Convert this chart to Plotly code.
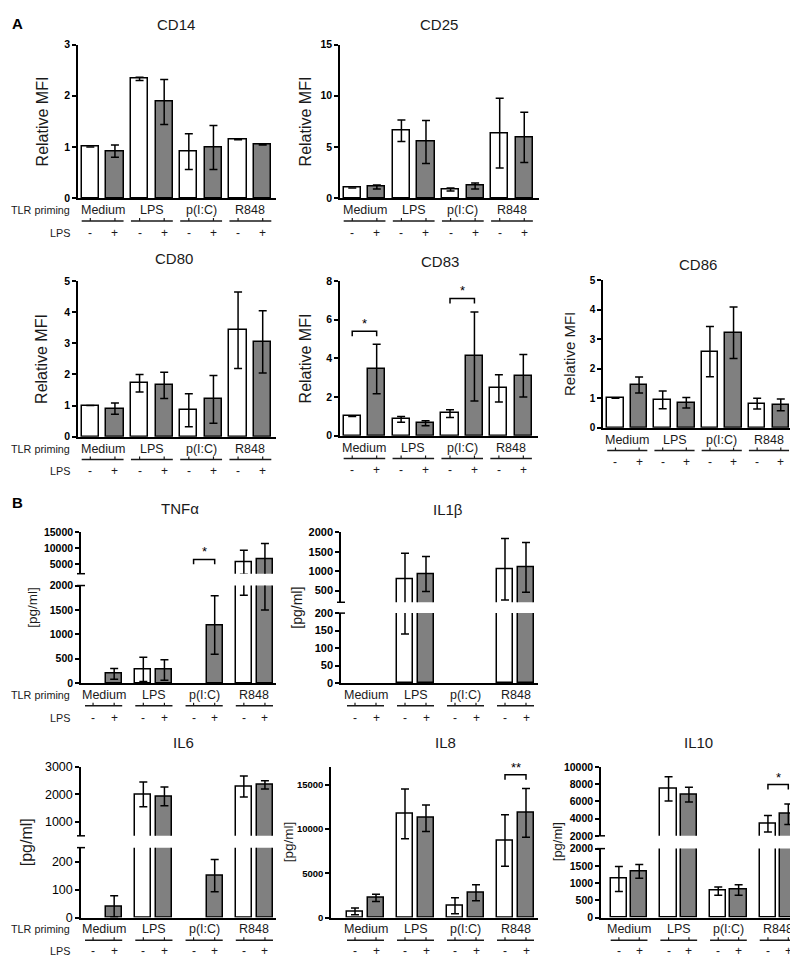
import plotly.graph_objects as go

W, H = 798, 957

groups = ["Medium", "LPS", "p(I:C)", "R848"]
lps = ["-", "+"]

# order: Medium -, Medium +, LPS -, LPS +, p(I:C) -, p(I:C) +, R848 -, R848 +
cd14 = [1.0, 0.92, 2.33, 1.88, 0.91, 0.99, 1.15, 1.05]
cd14_err = [0, 0.12, 0.03, 0.44, 0.35, 0.43, 0.01, 0.01]
cd25 = [1.0, 1.1, 6.6, 5.5, 0.85, 1.2, 6.35, 5.95]
cd25_err = [0, 0.2, 1.05, 2.1, 0.15, 0.3, 3.4, 2.45]
cd80 = [1.0, 0.9, 1.72, 1.65, 0.85, 1.2, 3.42, 3.05]
cd80_err = [0, 0.18, 0.28, 0.42, 0.53, 0.77, 1.23, 1.0]
cd83 = [1.0, 3.45, 0.85, 0.65, 1.15, 4.1, 2.45, 3.1]
cd83_err = [0, 1.28, 0.15, 0.13, 0.2, 2.3, 0.7, 1.1]
cd86 = [1.0, 1.45, 0.95, 0.85, 2.58, 3.22, 0.82, 0.78]
cd86_err = [0, 0.27, 0.3, 0.18, 0.85, 0.87, 0.18, 0.2]
tnfa = [None, 190, 280, 270, None, 1190, 5600, 6500]
tnfa_err = [0, 110, 250, 210, 0, 600, 3800, 5000]
il1b = [None, None, 800, 925, None, None, 1050, 1100]
il1b_err = [0, 0, 660, 450, 0, 0, 790, 640]
il6 = [None, 40, 2000, 1930, None, 150, 2290, 2350]
il6_err = [0, 38, 450, 340, 0, 58, 380, 150]
il8 = [700, 2220, 11700, 11200, 1330, 2800, 8700, 11800]
il8_err = [380, 400, 2800, 1500, 900, 900, 2900, 2750]
il10 = [1120, 1340, 7450, 6770, 770, 800, 3400, 4500]
il10_err = [360, 200, 1400, 850, 120, 150, 950, 1200]

# significance marks: (group, bracket level, text)
sig_cd83 = [("Medium", 5.4, "*"), ("p(I:C)", 7.1, "*")]
sig_tnfa = [("p(I:C)", 6500, "*")]
sig_il8 = [("R848", 16100, "**")]
sig_il10 = [("R848", 7950, "*")]

WHITE, GREY = "white", "#808080"
FONT = "Arial, Liberation Sans, sans-serif"

# panel geometry in pixels
panels = [
    dict(title="CD14", y=cd14, e=cd14_err, x0=70, x1=268, xr=[-0.5, 3.52], d=0.25, w=0.35,
         segs=[dict(top=30, bot=186, r=[0, 3], tv=[0, 1, 2, 3])],
         tpos=(168, 10), ytitle="Relative MFI", ytx=34, yts=16, tfs=10.5, bold=True,
         rowlab=True, sig=[]),
    dict(title="CD25", y=cd25, e=cd25_err, x0=332, x1=531, xr=[-0.5, 3.55], d=0.25, w=0.35,
         segs=[dict(top=30, bot=186, r=[0, 15], tv=[0, 5, 10, 15])],
         tpos=(431, 10), ytitle="Relative MFI", ytx=297, yts=16, tfs=10.5, bold=True,
         rowlab=False, sig=[]),
    dict(title="CD80", y=cd80, e=cd80_err, x0=70, x1=268, xr=[-0.5, 3.52], d=0.25, w=0.35,
         segs=[dict(top=270, bot=428, r=[0, 5], tv=[0, 1, 2, 3, 4, 5])],
         tpos=(166, 247), ytitle="Relative MFI", ytx=34, yts=16, tfs=10.5, bold=True,
         rowlab=True, sig=[]),
    dict(title="CD83", y=cd83, e=cd83_err, x0=332, x1=530, xr=[-0.5, 3.55], d=0.25, w=0.35,
         segs=[dict(top=270, bot=427, r=[0, 8], tv=[0, 2, 4, 6, 8])],
         tpos=(432, 250), ytitle="Relative MFI", ytx=297, yts=16, tfs=10.5, bold=True,
         rowlab=False, sig=sig_cd83),
    dict(title="CD86", y=cd86, e=cd86_err, x0=595, x1=786, xr=[-0.514, 3.53], d=0.25, w=0.35,
         segs=[dict(top=269, bot=419, r=[0, 5], tv=[0, 1, 2, 3, 4, 5])],
         tpos=(690, 253), ytitle="Relative MFI", ytx=562, yts=15, tfs=10, bold=True,
         rowlab=False, sig=[]),
    dict(title="TNFα", y=tnfa, e=tnfa_err, x0=73, x1=268, xr=[-0.45, 3.43], d=0.21, w=0.32,
         segs=[dict(top=579, bot=678, r=[0, 2000], tv=[0, 500, 1000, 1500, 2000]),
               dict(top=525, bot=567, r=[2000, 15000], tv=[5000, 10000, 15000])],
         tpos=(172, 501), ytitle="[pg/ml]", ytx=25, yts=13.5, tfs=10.5, bold=True,
         rowlab=True, sig=sig_tnfa),
    dict(title="IL1β", y=il1b, e=il1b_err, x0=333, x1=530, xr=[-0.49, 3.45], d=0.21, w=0.32,
         segs=[dict(top=607, bot=678, r=[0, 200], tv=[0, 50, 100, 150, 200]),
               dict(top=525, bot=596, r=[200, 2000], tv=[500, 1000, 1500, 2000])],
         tpos=(440, 502), ytitle="[pg/ml]", ytx=289, yts=14, tfs=11, bold=True,
         rowlab=False, sig=[]),
    dict(title="IL6", y=il6, e=il6_err, x0=73, x1=268, xr=[-0.45, 3.43], d=0.21, w=0.32,
         segs=[dict(top=845, bot=916, r=[0, 250], tv=[0, 100, 200]),
               dict(top=763, bot=833, r=[500, 3000], tv=[1000, 2000, 3000])],
         tpos=(175, 738), ytitle="[pg/ml]", ytx=18, yts=16, tfs=12.5, bold=False,
         rowlab=True, sig=[]),
    dict(title="IL8", y=il8, e=il8_err, x0=323, x1=530, xr=[-0.69, 3.45], d=0.21, w=0.32,
         segs=[dict(top=763, bot=916, r=[0, 17000], tv=[0, 5000, 10000, 15000])],
         tpos=(437, 738), ytitle="[pg/ml]", ytx=280, yts=13.5, tfs=9.5, bold=True,
         rowlab=False, sig=sig_il8),
    dict(title="IL10", y=il10, e=il10_err, x0=593, x1=790, xr=[-0.565, 3.4], d=0.205, w=0.33,
         segs=[dict(top=846, bot=916, r=[0, 2000], tv=[0, 500, 1000, 1500, 2000]),
               dict(top=763, bot=833, r=[2000, 10000], tv=[2000, 4000, 6000, 8000, 10000])],
         tpos=(690, 738), ytitle="[pg/ml]", ytx=549, yts=13, tfs=10.5, bold=True,
         rowlab=False, sig=sig_il10),
]


def px(v):
    return v / W


def py(v):
    return 1 - v / H


fig = go.Figure()
layout = {}
shapes = []
annos = []
ycount = 0
LC = "#1a1a1a"

for i, p in enumerate(panels, start=1):
    xkey = "xaxis" if i == 1 else f"xaxis{i}"
    xid = "x" if i == 1 else f"x{i}"
    d, w = p["d"], p["w"]
    xpos = [g + s * d for g in range(len(groups)) for s in (-1, 1)]
    colors = [WHITE if k % 2 == 0 else GREY for k in range(len(xpos))]

    yids = []
    for j, s in enumerate(p["segs"]):
        ycount += 1
        ykey = "yaxis" if ycount == 1 else f"yaxis{ycount}"
        yid = "y" if ycount == 1 else f"y{ycount}"
        yids.append(yid)
        layout[ykey] = dict(
            domain=[py(s["bot"]), py(s["top"])], range=s["r"], anchor=xid,
            tickvals=s["tv"], ticktext=[f"{v:g}" for v in s["tv"]],
            ticks="outside", ticklen=4, tickwidth=1.5, tickcolor="black",
            showline=True, linewidth=1.5, linecolor="black",
            showgrid=False, zeroline=False,
            tickfont=dict(family=FONT, size=p["tfs"], color="black",
                          weight="bold" if p["bold"] else "normal"),
        )
        # on an upper (broken) segment only bars that reach into it are drawn
        if j == 0:
            yv = p["y"]
        else:
            yv = [v if v is not None and v + e >= s["r"][0] else None
                  for v, e in zip(p["y"], p["e"])]
        fig.add_trace(go.Bar(
            x=xpos, y=yv, xaxis=xid, yaxis=yid, width=w,
            marker=dict(color=colors, line=dict(color="black", width=1.5)),
            error_y=dict(type="data", array=p["e"], color="black", thickness=1.5, width=4),
            showlegend=False, hoverinfo="skip",
        ))
        # break caps
        if len(p["segs"]) > 1:
            edge = s["top"] if j == 0 else s["bot"]
            shapes.append(dict(type="line", xref="paper", yref="paper",
                               x0=px(p["x0"] - 4), x1=px(p["x0"] + 4),
                               y0=py(edge), y1=py(edge),
                               line=dict(color="black", width=1.5)))

    layout[xkey] = dict(
        domain=[px(p["x0"]), px(p["x1"])], range=p["xr"], anchor=yids[0],
        showline=True, linewidth=2, linecolor="black", showticklabels=False,
        ticks="", showgrid=False, zeroline=False,
    )

    bot = p["segs"][0]["bot"]
    pm_y = bot + 35 if bot < 900 else bot + 34
    # group labels, lines with ticks, LPS +/- labels
    for g, name in enumerate(groups):
        annos.append(dict(text=name, x=g, y=py(bot + 12), xref=xid, yref="paper",
                          showarrow=False, xanchor="center", yanchor="middle",
                          font=dict(family=FONT, size=12.5, color=LC)))
        shapes.append(dict(type="line", xref=xid, yref="paper",
                           x0=g - d - w / 2, x1=g + d + w / 2,
                           y0=py(bot + 23), y1=py(bot + 23),
                           line=dict(color=LC, width=1.5)))
        for s in (-1, 1):
            shapes.append(dict(type="line", xref=xid, yref="paper",
                               x0=g + s * d, x1=g + s * d,
                               y0=py(bot + 23), y1=py(bot + 20),
                               line=dict(color=LC, width=1.2)))
    for k, xv in enumerate(xpos):
        annos.append(dict(text=lps[k % 2], x=xv, y=py(pm_y), xref=xid, yref="paper",
                          showarrow=False, xanchor="center", yanchor="middle",
                          borderpad=0,
                          font=dict(family=FONT, size=12, color=LC)))
    if p["rowlab"]:
        annos.append(dict(text="TLR priming", x=px(63), y=py(bot + 12), xref="paper",
                          yref="paper", showarrow=False, xanchor="right", yanchor="middle",
                          borderpad=0,
                          font=dict(family=FONT, size=10.8, color=LC)))
        annos.append(dict(text="LPS", x=px(63), y=py(pm_y), xref="paper",
                          yref="paper", showarrow=False, xanchor="right", yanchor="middle",
                          borderpad=0,
                          font=dict(family=FONT, size=10.8, color=LC)))

    # titles
    annos.append(dict(text=p["title"], x=px(p["tpos"][0]), y=py(p["tpos"][1]),
                      xref="paper", yref="paper", showarrow=False,
                      xanchor="center", yanchor="middle",
                      font=dict(family=FONT, size=15, color=LC)))
    top = min(s["top"] for s in p["segs"])
    annos.append(dict(text=p["ytitle"], x=px(p["ytx"]), y=py((top + bot) / 2),
                      xref="paper", yref="paper", showarrow=False, textangle=-90,
                      xanchor="center", yanchor="middle",
                      font=dict(family=FONT, size=p["yts"], color=LC)))

    # significance brackets (drawn on the highest segment)
    s_top = p["segs"][-1]
    y_top = yids[-1]
    per_px = (s_top["r"][1] - s_top["r"][0]) / (s_top["bot"] - s_top["top"])
    for gname, lvl, txt in p["sig"]:
        g = groups.index(gname)
        xa, xb = g - d, g + d
        dy = 5 * per_px
        shapes.append(dict(type="path", xref=xid, yref=y_top,
                           path=f"M {xa},{lvl - dy} L {xa},{lvl} L {xb},{lvl} L {xb},{lvl - dy}",
                           line=dict(color="black", width=1.5)))
        annos.append(dict(text=txt, x=g, y=lvl, xref=xid, yref=y_top, showarrow=False,
                          xanchor="center", yanchor="bottom", yshift=-2,
                          font=dict(family=FONT, size=13, color="black")))

annos.append(dict(text="<b>A</b>", x=px(2), y=py(9), xref="paper", yref="paper",
                  showarrow=False, xanchor="left", yanchor="middle",
                  font=dict(family=FONT, size=15, color="black")))
annos.append(dict(text="<b>B</b>", x=px(2), y=py(495), xref="paper", yref="paper",
                  showarrow=False, xanchor="left", yanchor="middle",
                  font=dict(family=FONT, size=15, color="black")))

fig.update_layout(
    width=W, height=H, margin=dict(l=0, r=0, t=0, b=0),
    paper_bgcolor="white", plot_bgcolor="white",
    showlegend=False, bargap=0, shapes=shapes, annotations=annos,
    font=dict(family=FONT),
    **layout,
)

fig.write_html("out.html")
